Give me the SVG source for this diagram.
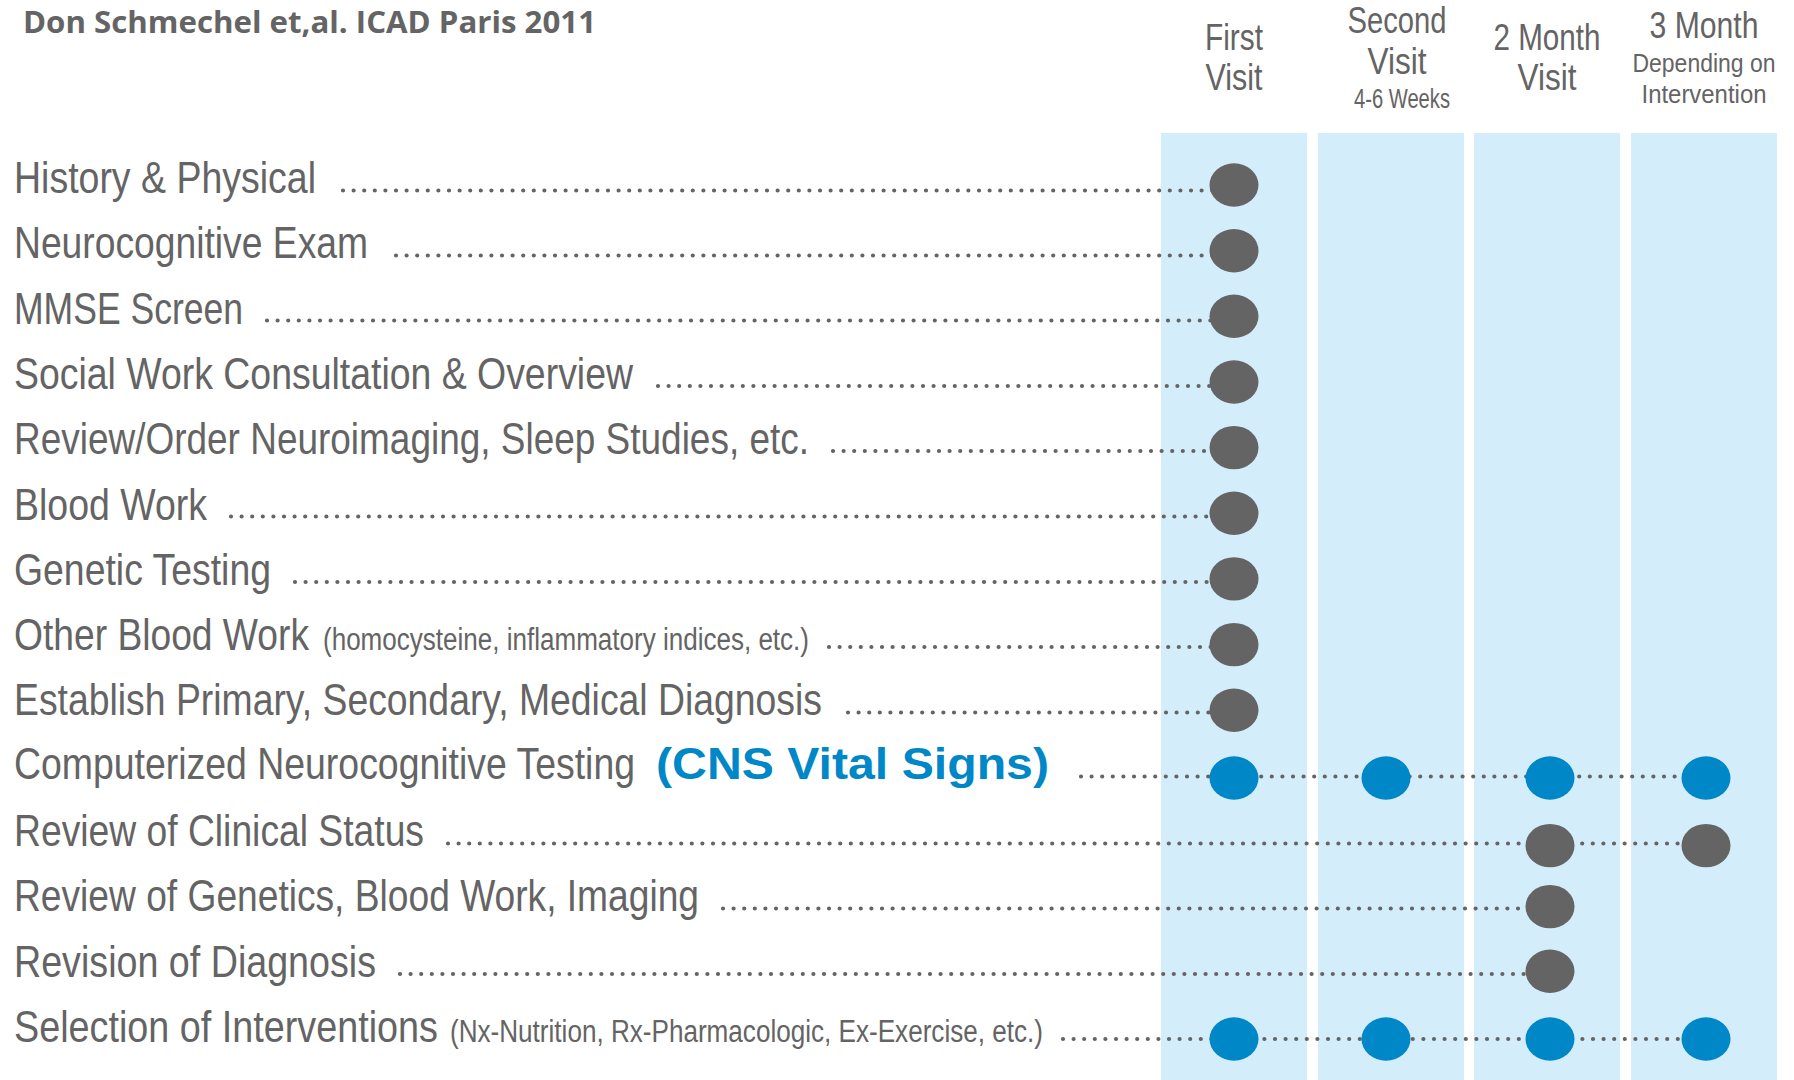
<svg xmlns="http://www.w3.org/2000/svg" width="1794" height="1080" viewBox="0 0 1794 1080">
<style>
.col{fill:#d4edfb}
.t{font-family:"Liberation Sans Narrow","Liberation Sans",Arial,sans-serif;fill:#646464;font-size:44px}
.s{font-size:31px}
.h{font-family:"Liberation Sans Narrow","Liberation Sans",Arial,sans-serif;fill:#646464;text-anchor:middle}
.cns{font-family:"Liberation Sans",Arial,sans-serif;font-weight:bold;fill:#0087c7;font-size:45px}
.title{font-family:"Open Sans","Liberation Sans",sans-serif;font-weight:bold;fill:#646464;font-size:31px}
.lead{stroke:#646464;stroke-width:4.2;stroke-linecap:round;stroke-dasharray:0 10.6;fill:none}
.g{fill:#646464}
.b{fill:#0087c7}
</style>
<rect width="1794" height="1080" fill="#ffffff"/>
<g id="columns">
<rect class="col" x="1161" y="133" width="146" height="947"/>
<rect class="col" x="1318" y="133" width="146" height="947"/>
<rect class="col" x="1474" y="133" width="146" height="947"/>
<rect class="col" x="1631" y="133" width="146" height="947"/>
</g>
<text class="title" x="23" y="33" textLength="573" lengthAdjust="spacingAndGlyphs">Don Schmechel et,al. ICAD Paris 2011</text>
<g id="headers">
<g id="h-first">
<text class="h" x="1234" y="50" font-size="37" textLength="58" lengthAdjust="spacingAndGlyphs">First</text>
<text class="h" x="1234" y="90" font-size="37" textLength="57" lengthAdjust="spacingAndGlyphs">Visit</text>
</g>
<g id="h-second">
<text class="h" x="1397" y="33" font-size="36" textLength="99" lengthAdjust="spacingAndGlyphs">Second</text>
<text class="h" x="1397" y="74" font-size="37" textLength="59" lengthAdjust="spacingAndGlyphs">Visit</text>
<text class="h" x="1402" y="108" font-size="28" textLength="96" lengthAdjust="spacingAndGlyphs">4-6 Weeks</text>
</g>
<g id="h-2month">
<text class="h" x="1547" y="50" font-size="37" textLength="107" lengthAdjust="spacingAndGlyphs">2 Month</text>
<text class="h" x="1547" y="90" font-size="37" textLength="59" lengthAdjust="spacingAndGlyphs">Visit</text>
</g>
<g id="h-3month">
<text class="h" x="1704" y="38" font-size="36" textLength="109" lengthAdjust="spacingAndGlyphs">3 Month</text>
<text class="h" x="1704" y="72" font-size="26" textLength="143" lengthAdjust="spacingAndGlyphs">Depending on</text>
<text class="h" x="1704" y="103" font-size="26" textLength="125" lengthAdjust="spacingAndGlyphs">Intervention</text>
</g>
</g>
<g id="connectors">
<line class="lead" x1="343" y1="190.5" x2="1230" y2="190.5"/>
<line class="lead" x1="396" y1="255.5" x2="1230" y2="255.5"/>
<line class="lead" x1="267" y1="320.5" x2="1230" y2="320.5"/>
<line class="lead" x1="658" y1="386" x2="1230" y2="386"/>
<line class="lead" x1="833" y1="451" x2="1230" y2="451"/>
<line class="lead" x1="231" y1="516.5" x2="1230" y2="516.5"/>
<line class="lead" x1="295" y1="582" x2="1230" y2="582"/>
<line class="lead" x1="829" y1="647" x2="1230" y2="647"/>
<line class="lead" x1="848" y1="712.5" x2="1230" y2="712.5"/>
<line class="lead" x1="1081" y1="776.5" x2="1706" y2="776.5"/>
<line class="lead" x1="448" y1="843.5" x2="1706" y2="843.5"/>
<line class="lead" x1="723" y1="908.5" x2="1550" y2="908.5"/>
<line class="lead" x1="400" y1="974" x2="1550" y2="974"/>
<line class="lead" x1="1063" y1="1039" x2="1706" y2="1039"/>
</g>
<g id="row-history"><text class="t" x="14" y="193" textLength="302" lengthAdjust="spacingAndGlyphs">History &amp; Physical</text><ellipse class="g" cx="1234" cy="185" rx="24.5" ry="21.7"/></g>
<g id="row-neuroexam"><text class="t" x="14" y="258.3" textLength="354" lengthAdjust="spacingAndGlyphs">Neurocognitive Exam</text><ellipse class="g" cx="1234" cy="250.7" rx="24.5" ry="21.7"/></g>
<g id="row-mmse"><text class="t" x="14" y="323.6" textLength="229" lengthAdjust="spacingAndGlyphs">MMSE Screen</text><ellipse class="g" cx="1234" cy="316.3" rx="24.5" ry="21.7"/></g>
<g id="row-social"><text class="t" x="14" y="388.9" textLength="619" lengthAdjust="spacingAndGlyphs">Social Work Consultation &amp; Overview</text><ellipse class="g" cx="1234" cy="382" rx="24.5" ry="21.7"/></g>
<g id="row-imaging"><text class="t" x="14" y="454.2" textLength="795" lengthAdjust="spacingAndGlyphs">Review/Order Neuroimaging, Sleep Studies, etc.</text><ellipse class="g" cx="1234" cy="447.6" rx="24.5" ry="21.7"/></g>
<g id="row-blood"><text class="t" x="14" y="519.5" textLength="193" lengthAdjust="spacingAndGlyphs">Blood Work</text><ellipse class="g" cx="1234" cy="513.3" rx="24.5" ry="21.7"/></g>
<g id="row-genetic"><text class="t" x="14" y="584.8" textLength="257" lengthAdjust="spacingAndGlyphs">Genetic Testing</text><ellipse class="g" cx="1234" cy="578.9" rx="24.5" ry="21.7"/></g>
<g id="row-otherblood"><text class="t" x="14" y="650.1" textLength="295" lengthAdjust="spacingAndGlyphs">Other Blood Work</text><text class="t s" x="323" y="650.1" textLength="486" lengthAdjust="spacingAndGlyphs">(homocysteine, inflammatory indices, etc.)</text><ellipse class="g" cx="1234" cy="644.6" rx="24.5" ry="21.7"/></g>
<g id="row-diagnosis"><text class="t" x="14" y="715.4" textLength="808" lengthAdjust="spacingAndGlyphs">Establish Primary, Secondary, Medical Diagnosis</text><ellipse class="g" cx="1234" cy="710.2" rx="24.5" ry="21.7"/></g>
<g id="row-cns"><text class="t" x="14" y="778.5" textLength="621" lengthAdjust="spacingAndGlyphs">Computerized Neurocognitive Testing</text><text class="cns" x="656" y="778.5" textLength="393" lengthAdjust="spacingAndGlyphs">(CNS Vital Signs)</text>
<ellipse class="b" cx="1234" cy="778" rx="24.5" ry="21.7"/><ellipse class="b" cx="1386" cy="778" rx="24.5" ry="21.7"/><ellipse class="b" cx="1550" cy="778" rx="24.5" ry="21.7"/><ellipse class="b" cx="1706" cy="778" rx="24.5" ry="21.7"/></g>
<g id="row-clinical"><text class="t" x="14" y="846" textLength="410" lengthAdjust="spacingAndGlyphs">Review of Clinical Status</text><ellipse class="g" cx="1550" cy="845.6" rx="24.5" ry="21.7"/><ellipse class="g" cx="1706" cy="845.6" rx="24.5" ry="21.7"/></g>
<g id="row-review-genetics"><text class="t" x="14" y="911.3" textLength="685" lengthAdjust="spacingAndGlyphs">Review of Genetics, Blood Work, Imaging</text><ellipse class="g" cx="1550" cy="906.6" rx="24.5" ry="21.7"/></g>
<g id="row-revision"><text class="t" x="14" y="976.6" textLength="362" lengthAdjust="spacingAndGlyphs">Revision of Diagnosis</text><ellipse class="g" cx="1550" cy="971.3" rx="24.5" ry="21.7"/></g>
<g id="row-interventions"><text class="t" x="14" y="1041.5" textLength="424" lengthAdjust="spacingAndGlyphs">Selection of Interventions</text><text class="t s" x="450" y="1041.5" textLength="593" lengthAdjust="spacingAndGlyphs">(Nx-Nutrition, Rx-Pharmacologic, Ex-Exercise, etc.)</text>
<ellipse class="b" cx="1234" cy="1039" rx="24.5" ry="21.7"/><ellipse class="b" cx="1386" cy="1039" rx="24.5" ry="21.7"/><ellipse class="b" cx="1550" cy="1039" rx="24.5" ry="21.7"/><ellipse class="b" cx="1706" cy="1039" rx="24.5" ry="21.7"/></g>
</svg>
